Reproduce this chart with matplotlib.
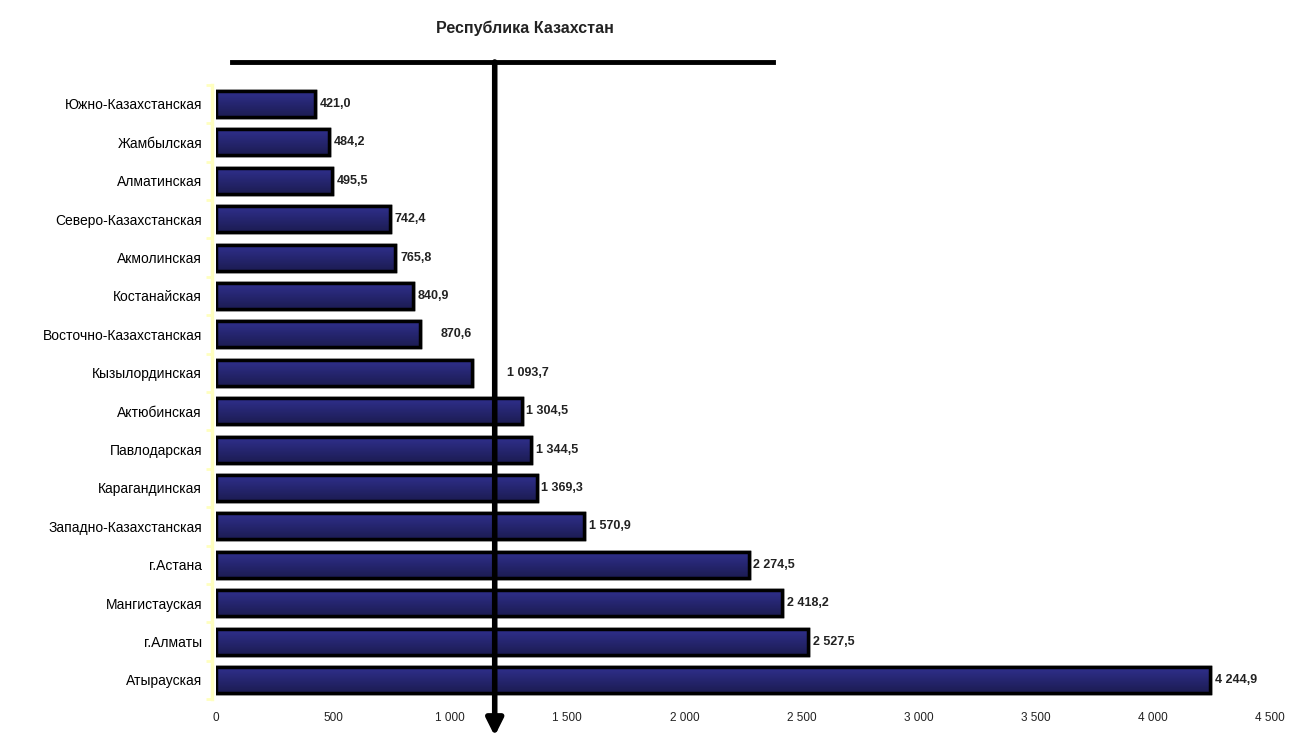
import numpy as np
import matplotlib.pyplot as plt
from matplotlib.lines import Line2D

# регионы сверху вниз и значения
regions = ["Южно-Казахстанская", "Жамбылская", "Алматинская", "Северо-Казахстанская",
           "Акмолинская", "Костанайская", "Восточно-Казахстанская", "Кызылординская",
           "Актюбинская", "Павлодарская", "Карагандинская", "Западно-Казахстанская",
           "г.Астана", "Мангистауская", "г.Алматы", "Атырауская"]
values = [421.0, 484.2, 495.5, 742.4, 765.8, 840.9, 870.6, 1093.7,
          1304.5, 1344.5, 1369.3, 1570.9, 2274.5, 2418.2, 2527.5, 4244.9]
kz_value = 1190  # Республика Казахстан
xticks = [0, 500, 1000, 1500, 2000, 2500, 3000, 3500, 4000, 4500]


def fmt(v, dec=1):
    s = f"{v:,.{dec}f}"
    return s.replace(",", " ").replace(".", ",")


plt.rcParams['font.family'] = ['Liberation Sans', 'DejaVu Sans']

fig = plt.figure(figsize=(12.94, 7.36), dpi=100)
ax = fig.add_axes([0.1669, 0.05, 0.8146, 0.8348])

y = np.arange(len(regions))
bars = ax.barh(y, values, height=0.68, color="#24246e", edgecolor="black", linewidth=2.5, zorder=2)

# вертикальный градиент внутри каждого столбца
grad = np.linspace(0, 1, 64).reshape(-1, 1)
cmap = plt.matplotlib.colors.LinearSegmentedColormap.from_list("g", ["#30308f", "#1c1c52"])
for b in bars:
    x0, y0 = b.get_x(), b.get_y()
    im = ax.imshow(grad, cmap=cmap, aspect="auto", zorder=2.5,
                   extent=(x0, x0 + b.get_width(), y0 + b.get_height(), y0))
    im.set_clip_path(b)
# контур поверх градиента
ax.barh(y, values, height=0.68, color="none", edgecolor="black", linewidth=2.5, zorder=3)

pads = {6: 90, 7: 150}
for i, v in enumerate(values):
    ax.text(v + pads.get(i, 20), i, fmt(v), va="center", ha="left",
            fontsize=9, fontweight="bold", color="#222222", zorder=4)

ax.set_xlim(0, 4500)
ax.set_ylim(len(regions) - 0.5, -0.5)
ax.set_xticks(xticks)
ax.set_xticklabels([fmt(t, 0) for t in xticks], fontsize=8.5, color="#222222")
ax.set_yticks(y)
ax.set_yticklabels(regions, fontsize=9.5, color="#111111")
ax.tick_params(axis="both", length=0)
ax.tick_params(axis="y", pad=7)
ax.tick_params(axis="x", pad=9)
ax.set_yticks(np.arange(-0.5, len(regions), 1), minor=True)
ax.tick_params(axis="y", which="minor", length=4, color="#ffffc0", width=2)

for s in ["top", "right", "bottom"]:
    ax.spines[s].set_visible(False)
ax.spines["left"].set_color("#ffffc0")
ax.spines["left"].set_linewidth(2.5)
ax.spines["left"].set_position(("outward", 3))

# линия республиканского значения со стрелкой
fig.text(0.4057, 0.962, "Республика Казахстан", ha="center", va="center",
         fontsize=11.5, fontweight="bold", color="#222222")
fig.add_artist(Line2D([0.179, 0.597], [0.9158, 0.9158], color="black", lw=3.5,
                      transform=fig.transFigure))
ax.annotate("", xy=(kz_value, 0.0), xytext=(kz_value, 0.9158),
            xycoords=("data", "figure fraction"), textcoords=("data", "figure fraction"),
            arrowprops=dict(arrowstyle="-|>,head_width=0.5,head_length=1.0",
                            color="black", lw=4, shrinkA=0, shrinkB=0),
            annotation_clip=False, zorder=5)

fig.savefig("out.png", dpi=100, facecolor="white")
